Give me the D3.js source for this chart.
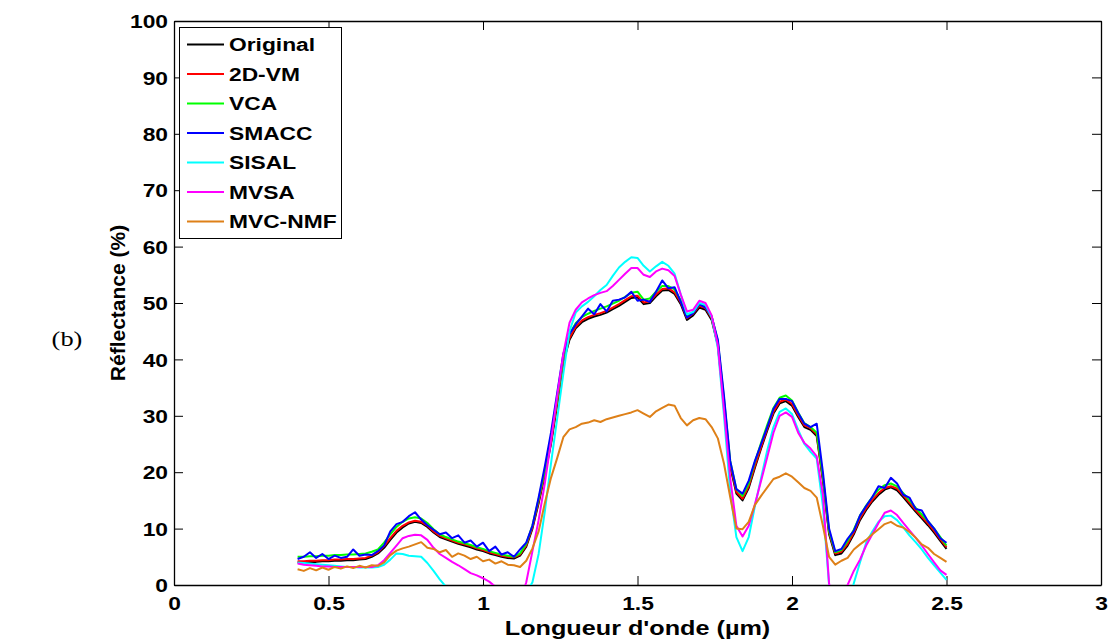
<!DOCTYPE html>
<html><head><meta charset="utf-8">
<script src="https://cdn.jsdelivr.net/npm/d3@7"></script>
<style>
body{margin:0;background:#fff;}
svg{display:block;}
.tick text{font-family:"Liberation Sans",Arial,sans-serif;font-weight:bold;font-size:19px;fill:#000;}
</style></head>
<body><svg id="c" width="1115" height="643"></svg>
<script>
const wavelengths = [0.40,0.42,0.44,0.46,0.48,0.50,0.52,0.54,0.56,0.58,0.60,0.62,0.64,0.66,0.68,0.70,0.72,0.74,0.76,0.78,0.80,0.82,0.84,0.86,0.88,0.90,0.92,0.94,0.96,0.98,1.00,1.02,1.04,1.06,1.08,1.10,1.12,1.14,1.16,1.18,1.20,1.22,1.24,1.26,1.28,1.30,1.32,1.34,1.36,1.38,1.40,1.42,1.44,1.46,1.48,1.50,1.52,1.54,1.56,1.58,1.60,1.62,1.64,1.66,1.68,1.70,1.72,1.74,1.76,1.78,1.80,1.82,1.84,1.86,1.88,1.90,1.92,1.94,1.96,1.98,2.00,2.02,2.04,2.06,2.08,2.10,2.12,2.14,2.16,2.18,2.20,2.22,2.24,2.26,2.28,2.30,2.32,2.34,2.36,2.38,2.40,2.42,2.44,2.46,2.48,2.50];

const original = [4.0,4.0,4.1,4.1,4.2,4.2,4.3,4.3,4.4,4.4,4.5,4.6,5.0,5.6,6.6,8.0,9.3,10.2,10.9,11.2,11.0,10.3,9.3,8.5,8.1,7.7,7.3,7.0,6.7,6.3,6.0,5.6,5.3,5.0,4.8,4.7,5.2,6.8,10.0,14.5,19.5,25.0,32.0,39.5,43.5,45.5,46.6,47.2,47.6,47.9,48.3,48.9,49.5,50.2,50.9,51.0,49.8,50.0,51.2,52.2,52.3,51.6,49.8,47.0,47.8,49.2,48.8,47.0,42.5,32.0,21.0,16.2,15.0,17.2,20.8,24.2,27.4,30.4,32.2,32.6,31.8,29.8,28.0,27.5,26.4,18.5,9.0,5.3,5.6,7.0,9.0,11.5,13.3,14.8,16.0,16.9,17.3,16.8,15.6,14.3,13.0,11.8,10.6,9.3,7.8,6.4];

const vm2d = [4.2,4.2,4.3,4.3,4.4,4.4,4.5,4.5,4.6,4.6,4.7,4.8,5.2,5.8,6.9,8.3,9.6,10.5,11.1,11.4,11.2,10.5,9.5,8.7,8.3,7.9,7.5,7.2,6.9,6.5,6.2,5.8,5.5,5.2,5.0,4.9,5.4,7.0,10.2,14.8,19.8,25.3,32.3,39.8,43.8,45.8,46.9,47.5,47.9,48.2,48.6,49.2,49.8,50.5,51.2,51.3,50.1,50.3,51.5,52.5,52.6,51.9,50.1,47.3,48.1,49.5,49.1,47.3,42.8,32.3,21.3,16.5,15.3,17.5,21.1,24.5,27.7,30.7,32.5,32.9,32.1,30.1,28.3,27.8,26.7,18.8,9.3,5.6,5.9,7.3,9.3,11.8,13.6,15.1,16.3,17.2,17.5,17.1,15.9,14.6,13.3,12.1,10.9,9.6,8.1,6.7];

const vca = [5.0,5.0,5.1,5.1,5.2,5.2,5.3,5.3,5.4,5.4,5.5,5.6,5.9,6.3,7.5,9.0,10.3,11.2,11.8,12.0,11.8,11.0,9.9,9.0,8.5,8.1,7.7,7.4,7.1,6.7,6.4,6.0,5.7,5.4,5.2,5.0,5.6,7.3,10.6,15.2,20.3,26.0,33.0,40.5,44.5,46.4,47.5,48.1,48.6,49.0,49.4,49.9,50.4,51.1,51.8,52.0,50.6,50.8,52.0,53.0,53.0,52.4,50.5,47.6,48.4,49.8,49.4,47.6,43.2,33.0,22.0,17.0,15.8,18.0,21.8,25.2,28.4,31.4,33.2,33.6,32.7,30.6,28.7,28.0,27.0,19.2,9.6,5.8,6.2,7.8,9.8,12.3,14.1,15.6,16.9,17.7,18.0,17.5,16.3,15.0,13.7,12.5,11.3,10.0,8.5,7.0];

const smacc = [4.6,5.0,5.8,4.8,5.5,4.6,5.2,4.8,5.0,6.3,5.2,5.4,5.3,6.0,7.0,9.5,10.8,11.2,12.2,12.9,11.6,10.6,9.8,9.0,9.3,8.3,8.8,7.5,7.9,6.8,7.5,6.0,6.8,5.4,5.8,5.0,6.3,7.5,10.5,15.5,21.0,27.0,34.0,41.0,44.5,46.2,47.6,49.0,48.0,49.8,48.5,50.4,50.6,51.0,52.0,50.4,50.6,50.2,52.0,54.0,52.6,52.8,50.2,47.4,48.2,49.8,49.2,47.6,43.5,33.5,22.0,17.0,16.2,18.5,22.0,25.0,28.0,31.2,33.0,33.0,32.6,30.5,28.6,28.0,28.6,20.0,10.0,6.0,6.4,8.2,9.6,12.3,14.0,15.6,17.5,17.2,19.0,18.0,16.0,15.5,13.5,13.2,11.3,10.0,8.3,7.5];

const sisal = [4.0,3.9,3.8,3.7,3.6,3.5,3.4,3.3,3.2,3.2,3.1,3.1,3.1,3.2,3.6,4.5,5.6,5.5,5.2,5.1,5.0,3.9,2.5,1.0,-0.3,-2.0,-4.0,-5.0,-6.0,-6.5,-7.0,-7.0,-7.0,-7.0,-6.5,-6.0,-4.0,-1.5,0.5,5.5,13.0,21.5,29.5,37.5,45.0,48.3,49.4,50.2,51.2,52.3,53.2,54.8,56.3,57.3,58.1,58.0,56.6,55.6,56.5,57.3,56.6,55.2,51.5,48.0,48.4,50.0,49.7,47.5,42.0,30.0,16.5,8.5,6.0,8.5,14.0,19.0,23.9,28.0,30.7,31.3,30.3,27.5,25.0,23.6,22.4,14.0,0.0,-8.0,-7.0,-4.0,0.3,4.0,7.5,9.5,11.2,12.2,12.3,11.5,10.2,8.8,7.6,6.3,4.8,3.5,2.2,0.9];

const mvsa = [3.8,3.6,3.5,3.4,3.3,3.3,3.2,3.2,3.2,3.2,3.2,3.2,3.2,3.5,4.4,5.7,7.0,8.3,8.7,8.9,8.8,8.0,6.6,5.5,4.8,4.1,3.5,2.8,2.1,1.7,1.2,0.6,-0.3,-3.0,-5.0,-5.0,-3.0,0.5,6.0,11.5,18.0,25.5,33.5,41.0,46.5,48.8,50.1,50.8,51.4,51.8,52.1,53.0,54.1,55.2,56.2,56.2,55.0,54.6,55.6,56.1,55.8,54.8,51.5,48.5,48.8,50.4,50.0,47.8,42.5,31.0,19.0,10.5,8.6,10.5,14.3,18.5,22.7,27.0,30.0,30.6,29.8,27.0,25.2,24.2,22.8,16.0,0.3,-6.0,-4.0,0.0,2.5,4.5,7.0,9.0,11.0,12.8,13.2,12.4,11.0,9.7,8.4,7.0,5.5,4.0,2.6,1.8];

const mvcnmf = [2.8,2.5,3.0,2.6,3.1,2.7,3.2,2.9,3.3,3.0,3.4,3.1,3.5,3.4,4.0,5.3,6.1,6.5,6.8,7.2,7.6,6.6,6.4,5.8,6.2,5.0,5.6,5.2,4.6,5.0,4.2,4.5,3.8,4.2,3.6,3.5,3.2,4.3,6.5,9.5,14.5,19.0,22.5,26.2,27.6,28.0,28.6,28.8,29.2,28.9,29.4,29.7,30.0,30.3,30.6,31.0,30.4,29.8,30.8,31.4,32.0,31.8,29.6,28.3,29.2,29.6,29.4,28.0,26.0,21.5,15.6,10.0,9.9,11.2,14.2,15.8,17.3,18.8,19.2,19.8,19.2,18.2,17.2,16.7,15.5,10.5,5.0,3.6,4.3,4.8,6.3,7.2,8.0,9.0,9.9,10.8,11.2,10.5,10.2,9.4,8.4,7.2,6.6,5.5,4.8,4.1];

const seriesNames = ["Original","2D-VM","VCA","SMACC","SISAL","MVSA","MVC-NMF"];
const seriesColors = ["#000000","#ff0000","#00ff00","#0000ff","#00ffff","#ff00ff","#de8018"];
const seriesValues = [original, vm2d, vca, smacc, sisal, mvsa, mvcnmf];
const xTicks = [0,0.5,1,1.5,2,2.5,3];
const yTicks = [0,10,20,30,40,50,60,70,80,90,100];

const SX = 1.2; // horizontal stretch of the reference's lettering
const svg = d3.select("#c");
const L = 174, R = 1101, T = 21, B = 585;
const x = d3.scaleLinear().domain([0,3]).range([L,R]);
const y = d3.scaleLinear().domain([0,100]).range([B,T]);

svg.append("defs").append("clipPath").attr("id","clip")
  .append("rect").attr("x",L).attr("y",T).attr("width",R-L).attr("height",B-T);

// axes
const fmt = d => String(d);
const gx = svg.append("g").attr("transform",`translate(0,${B})`)
  .call(d3.axisBottom(x).tickValues(xTicks).tickFormat(fmt).tickSizeInner(-9).tickSizeOuter(0).tickPadding(10));
const gy = svg.append("g").attr("transform",`translate(${L},0)`)
  .call(d3.axisLeft(y).tickValues(yTicks).tickFormat(fmt).tickSizeInner(-9).tickSizeOuter(0).tickPadding(6));
const gxt = svg.append("g").attr("transform",`translate(0,${T})`)
  .call(d3.axisTop(x).tickValues(xTicks).tickFormat("").tickSizeInner(-9).tickSizeOuter(0));
const gyr = svg.append("g").attr("transform",`translate(${R},0)`)
  .call(d3.axisRight(y).tickValues(yTicks).tickFormat("").tickSizeInner(-9).tickSizeOuter(0));
[gx,gy,gxt,gyr].forEach(g=>{g.selectAll("path").attr("stroke","#000").attr("stroke-width",1.3);
  g.selectAll("line").attr("stroke","#000");});
gx.selectAll("text").attr("y",0).attr("dy",0).attr("transform",`translate(0,25) scale(${SX},1)`);
gy.selectAll("text").attr("x",0).attr("dy","0.35em").attr("transform",`translate(-6,0) scale(${SX},1)`);

// lines
const line = d3.line().x((d,i)=>x(wavelengths[i])).y(d=>y(d));
const gl = svg.append("g").attr("clip-path","url(#clip)");
seriesValues.forEach((vals,k)=>{
  gl.append("path").attr("d",line(vals)).attr("fill","none")
    .attr("stroke",seriesColors[k]).attr("stroke-width",2).attr("stroke-linejoin","round");
});

// legend
const lg = svg.append("g");
lg.append("rect").attr("x",179.5).attr("y",27.5).attr("width",162).attr("height",211)
  .attr("fill","#fff").attr("stroke","#000").attr("stroke-width",1);
seriesNames.forEach((n,k)=>{
  const yy = 44.5 + k*29.5;
  lg.append("line").attr("x1",187).attr("x2",224).attr("y1",yy).attr("y2",yy)
    .attr("stroke",seriesColors[k]).attr("stroke-width",2);
  lg.append("text").attr("transform",`translate(229,${yy}) scale(${SX},1)`).attr("dy","0.36em").text(n)
    .style("font-family","Liberation Sans, Arial, sans-serif").style("font-weight","bold").style("font-size","19px");
});

// titles
svg.append("text").attr("transform",`translate(${(L+R)/2},635) scale(${SX},1)`).attr("text-anchor","middle")
  .style("font-family","Liberation Sans, Arial, sans-serif").style("font-weight","bold").style("font-size","21px")
  .text("Longueur d'onde (µm)");
svg.append("text").attr("transform",`translate(125,${(T+B)/2}) rotate(-90)`).attr("text-anchor","middle")
  .style("font-family","Liberation Sans, Arial, sans-serif").style("font-weight","bold").style("font-size","21px")
  .text("Réflectance (%)");
svg.append("text").attr("transform",`translate(67,346) scale(${SX},1)`).attr("text-anchor","middle")
  .style("font-family","Liberation Serif, Times New Roman, serif").style("font-size","22px")
  .text("(b)");
</script></body></html>
